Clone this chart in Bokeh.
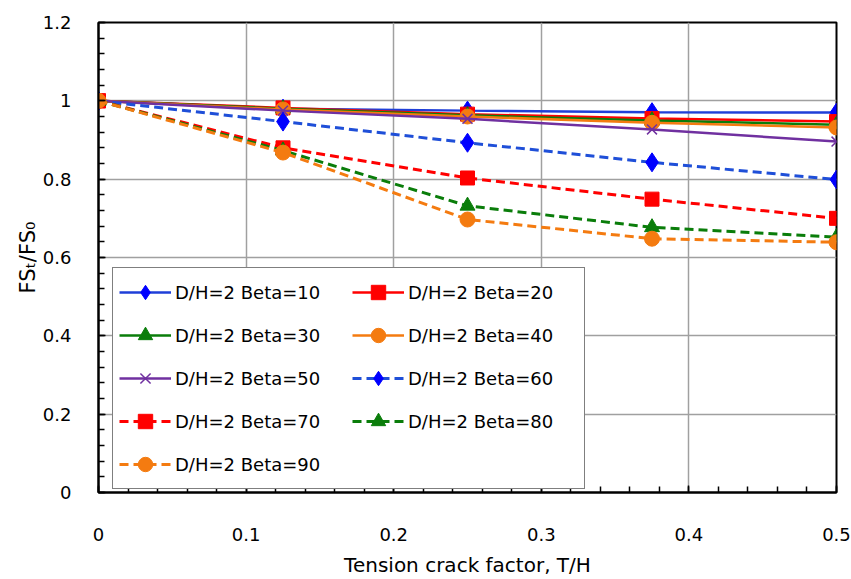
from bokeh.plotting import figure
from bokeh.models import (Legend, LegendItem, FixedTicker, CustomJSTickFormatter, Range1d)
from bokeh.embed import file_html
from bokeh.resources import INLINE

# ---- data ----
x_vals = [0, 0.125, 0.25, 0.375, 0.5]
beta10 = [1.0, 0.980, 0.975, 0.971, 0.970]
beta20 = [1.0, 0.982, 0.966, 0.955, 0.947]
beta30 = [1.0, 0.980, 0.963, 0.950, 0.939]
beta40 = [1.0, 0.978, 0.960, 0.944, 0.932]
beta50 = [1.0, 0.975, 0.954, 0.927, 0.896]
beta60 = [1.0, 0.947, 0.893, 0.843, 0.799]
beta70 = [1.0, 0.880, 0.803, 0.749, 0.700]
beta80 = [1.0, 0.873, 0.732, 0.677, 0.652]
beta90 = [1.0, 0.868, 0.697, 0.648, 0.639]
labels = ["D/H=2 Beta=10", "D/H=2 Beta=20", "D/H=2 Beta=30", "D/H=2 Beta=40",
          "D/H=2 Beta=50", "D/H=2 Beta=60", "D/H=2 Beta=70", "D/H=2 Beta=80",
          "D/H=2 Beta=90"]
series = [beta10, beta20, beta30, beta40, beta50, beta60, beta70, beta80, beta90]

x_major = [0, 0.1, 0.2, 0.3, 0.4, 0.5]
y_major = [0, 0.2, 0.4, 0.6, 0.8, 1.0, 1.2]
x_minor = [round(i * 0.02, 2) for i in range(26)]
y_minor = [round(i * 0.04, 2) for i in range(31)]

FONT = "DejaVu Sans"

# style per series: (line colour, marker colour, marker, size, dashed)
styles = [
    ("#1f3fd8", "#0000ff", "diamond", 19, False),
    ("#ff0000", "#ff0000", "square", 14, False),
    ("#0a7d0a", "#0a7d0a", "triangle", 15, False),
    ("#f47b10", "#f47b10", "circle", 15, False),
    ("#7030a0", "#7030a0", "x", 14, False),
    ("#1f4fd8", "#0000ff", "diamond", 19, True),
    ("#ff0000", "#ff0000", "square", 14, True),
    ("#0a7d0a", "#0a7d0a", "triangle", 15, True),
    ("#f47b10", "#f47b10", "circle", 15, True),
]

p = figure(width=851, height=579, output_backend="svg", toolbar_location=None,
           x_range=Range1d(0, 0.5), y_range=Range1d(0, 1.2),
           min_border_left=98, min_border_right=15, min_border_top=22, min_border_bottom=86)

p.outline_line_color = "black"
p.outline_line_width = 2
p.background_fill_color = "white"
p.border_fill_color = "white"

p.xaxis.ticker = FixedTicker(ticks=x_major, minor_ticks=x_minor)
p.yaxis.ticker = FixedTicker(ticks=y_major, minor_ticks=y_minor)
p.xaxis.formatter = CustomJSTickFormatter(code="return tick.toFixed(1).replace(/\\.0$/, '');")
p.yaxis.formatter = CustomJSTickFormatter(code="return tick.toFixed(1).replace(/\\.0$/, '');")

for ax in (p.xaxis[0], p.yaxis[0]):
    ax.axis_line_color = "black"
    ax.axis_line_width = 2
    ax.major_tick_in = 7
    ax.major_tick_out = 0
    ax.minor_tick_in = 6
    ax.minor_tick_out = 0
    ax.major_tick_line_color = "black"
    ax.minor_tick_line_color = "black"
    ax.major_tick_line_width = 1.5
    ax.minor_tick_line_width = 1.5
    ax.major_label_text_font = FONT
    ax.major_label_text_font_size = "18px"
    ax.major_label_text_color = "black"
    ax.axis_label_text_font = FONT
    ax.axis_label_text_font_size = "20px"
    ax.axis_label_text_font_style = "normal"
    ax.axis_label_text_color = "black"

p.xaxis.major_label_standoff = 35
p.yaxis.major_label_standoff = 27
p.xaxis.axis_label = "Tension crack factor, T/H"
p.yaxis.axis_label = "FS\u209c/FS\u2080"
p.yaxis.axis_label_text_font_size = "21px"
p.xaxis.axis_label_standoff = 9
p.yaxis.axis_label_standoff = 0

p.grid.grid_line_color = "#a0a0a0"
p.grid.grid_line_width = 1.5

items = []
for lab, ys, (lc, mc, mk, sz, dashed) in zip(labels, series, styles):
    r_line = p.line(x_vals, ys, line_color=lc, line_width=3 if dashed else 2.5,
                    line_dash="9 5" if dashed else "solid")
    if mk == "x":
        r_pts = p.scatter(x_vals, ys, marker=mk, size=sz, line_color=mc, line_width=1.5)
    else:
        r_pts = p.scatter(x_vals, ys, marker=mk, size=sz, fill_color=mc, line_color=mc)
    items.append(LegendItem(label=lab, renderers=[r_line, r_pts]))

# legend fills column by column: reorder so it reads row by row
order = [0, 2, 4, 6, 8, 1, 3, 5, 7]
legend = Legend(items=[items[i] for i in order], location=(14, 3), ncols=2,
                orientation="vertical")
legend.label_text_font = FONT
legend.label_text_font_size = "18px"
legend.label_text_color = "black"
legend.glyph_width = 52
legend.glyph_height = 36
legend.label_height = 20
legend.label_width = 170
legend.label_standoff = 4
legend.spacing = 7
legend.padding = 6
legend.margin = 0
legend.border_line_color = "black"
legend.border_line_width = 1
legend.background_fill_alpha = 1
p.add_layout(legend, "center")

open("out.html", "w").write(file_html(p, INLINE))
